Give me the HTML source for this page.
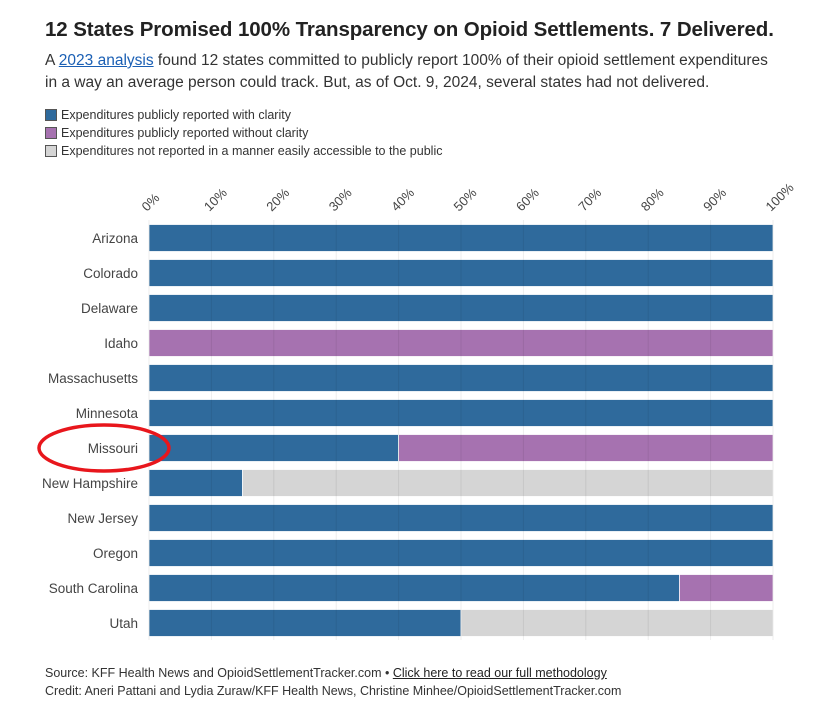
<!DOCTYPE html>
<html><head><meta charset="utf-8"><style>
body{margin:0;width:834px;height:715px;background:#fff;font-family:"Liberation Sans",sans-serif;color:#333;overflow:hidden}
h1{position:absolute;left:45px;top:18px;margin:0;font-size:20.5px;font-weight:bold;color:#222;letter-spacing:-0.1px;white-space:nowrap}
.sub{position:absolute;left:45px;top:50px;width:789px;font-size:15.5px;line-height:22px;color:#333;white-space:nowrap}
.sub a{color:#1a5fb4;text-decoration:underline}
.leg{position:absolute;left:45px;font-size:12.5px;color:#333}
.sw{display:inline-block;width:12px;height:12px;vertical-align:-2px;margin-right:4px;border:1px solid #555;box-sizing:border-box}
.foot{position:absolute;left:45px;top:664px;font-size:12.5px;line-height:18px;color:#333}
.foot a{color:#222;text-decoration:underline}
</style></head><body>
<h1>12 States Promised 100% Transparency on Opioid Settlements. 7 Delivered.</h1>
<div class="sub">A <a>2023 analysis</a> found 12 states committed to publicly report 100% of their opioid settlement expenditures<br>in a way an average person could track. But, as of Oct. 9, 2024, several states had not delivered.</div>
<div class="leg" style="top:108px"><span class="sw" style="background:#2f6a9c"></span>Expenditures publicly reported with clarity</div>
<div class="leg" style="top:126px"><span class="sw" style="background:#a672b0"></span>Expenditures publicly reported without clarity</div>
<div class="leg" style="top:144px"><span class="sw" style="background:#d5d5d5"></span>Expenditures not reported in a manner easily accessible to the public</div>
<svg id="chart" width="834" height="715" style="position:absolute;left:0;top:0"></svg>
<div class="foot">Source: KFF Health News and OpioidSettlementTracker.com • <a>Click here to read our full methodology</a><br>Credit: Aneri Pattani and Lydia Zuraw/KFF Health News, Christine Minhee/OpioidSettlementTracker.com</div>
<script>
const states=["Arizona","Colorado","Delaware","Idaho","Massachusetts","Minnesota","Missouri","New Hampshire","New Jersey","Oregon","South Carolina","Utah"];
const clarity=[100,100,100,0,100,100,40,15,100,100,85,50];
const noClarity=[0,0,0,100,0,0,60,0,0,0,15,0];
const notReported=[0,0,0,0,0,0,0,85,0,0,0,50];
const ticks=[0,10,20,30,40,50,60,70,80,90,100];
const NS="http://www.w3.org/2000/svg";
const svg=document.getElementById('chart');
const x0=149,x1=773,yTop=238,step=35,bh=27;
const xs=v=>x0+(x1-x0)*v/100;
const ys=i=>yTop+i*step;
function mk(t,a){const e=document.createElementNS(NS,t);for(const k in a)e.setAttribute(k,a[k]);svg.appendChild(e);return e;}
ticks.forEach(t=>{
 const tx=mk('text',{x:xs(t)-2,y:212,'font-size':13,fill:'#444','font-family':'Liberation Sans,sans-serif',transform:`rotate(-45 ${xs(t)-2} 212)`});
 tx.textContent=t+'%';
 
 
});
states.forEach((s,i)=>{
 const cy=ys(i);
 const lb=mk('text',{x:138,y:cy+5,'text-anchor':'end','font-size':13.5,fill:'#444','font-family':'Liberation Sans,sans-serif'});
 lb.textContent=s;
 
 
 let acc=0;
 [[clarity,'#2f6a9c'],[noClarity,'#a672b0'],[notReported,'#d5d5d5']].forEach(([arr,c])=>{
  const v=arr[i];if(v<=0)return;
  const r=mk('rect',{x:xs(acc),y:cy-bh/2,width:xs(acc+v)-xs(acc),height:bh,fill:c,stroke:'#fff','stroke-width':0.8});
  
  
  acc+=v;
 });
});
ticks.forEach(t=>{
 const g=mk('line',{x1:xs(t),x2:xs(t),y1:220,y2:640,stroke:'#000','stroke-opacity':0.07,'stroke-width':1});
 
 
});
const el=mk('ellipse',{cx:104,cy:ys(6),rx:65,ry:23,fill:'none',stroke:'#e8161c','stroke-width':3.5});


</script>
</body></html>
